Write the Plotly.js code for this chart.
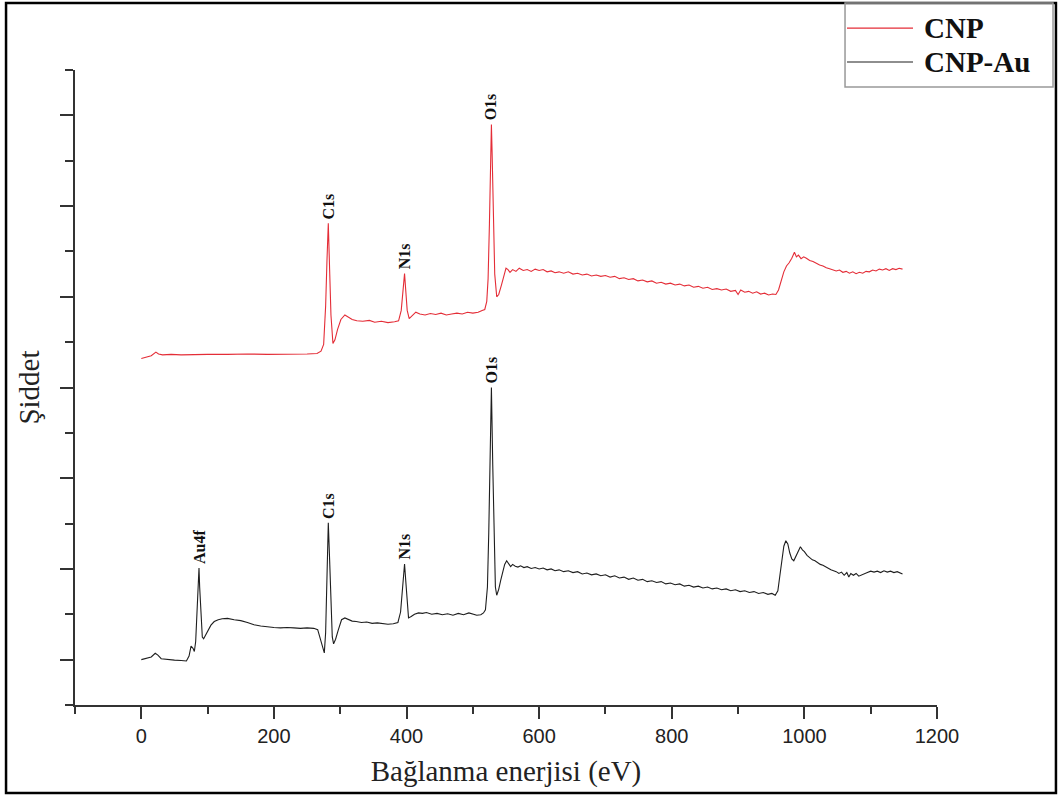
<!DOCTYPE html>
<html>
<head>
<meta charset="utf-8">
<script src="https://cdn.plot.ly/plotly-3.0.1.min.js"></script>
<style>html,body{margin:0;padding:0;background:#fff;}#chart{width:1059px;height:795px;}</style>
</head>
<body>
<div id="chart"></div>
<script>
// ---- Data ----
var seriesNames = ['CNP', 'CNP-Au'];

var cnpE = [0,8,15,22,26,32,45,60,80,100,130,160,190,220,250,265,271,275,278,280,282,284,286,289,292,296,301,307,312,318,325,334,344,352,362,372,382,388,392,395,397,399,401,404,409,414,420,428,436,444,452,460,468,476,484,492,500,508,514,518,521,523,525,527,528,529,531,533,536,539,543,547,550,553,556,560,565,570,576,582,588,594,600,606,612,618,624,630,637,644,651,658,665,672,679,686,693,700,707,714,721,728,735,742,749,756,763,770,777,784,791,798,805,812,819,826,833,840,847,854,861,868,875,882,889,896,900,904,910,916,922,928,934,940,946,952,957,961,965,969,973,977,981,985,988,991,995,999,1003,1008,1013,1018,1023,1028,1033,1038,1043,1048,1053,1058,1063,1068,1073,1078,1083,1088,1093,1098,1103,1108,1113,1118,1123,1128,1133,1138,1143,1148];
var cnpI = [7.64,7.67,7.70,7.78,7.74,7.72,7.73,7.72,7.73,7.73,7.73,7.74,7.73,7.73,7.74,7.75,7.80,7.95,8.80,9.80,10.62,9.60,8.60,7.97,8.05,8.28,8.50,8.60,8.55,8.50,8.47,8.46,8.48,8.44,8.46,8.43,8.45,8.47,8.70,9.20,9.51,9.10,8.70,8.52,8.58,8.66,8.62,8.60,8.63,8.61,8.64,8.60,8.62,8.64,8.62,8.66,8.64,8.66,8.70,8.72,8.90,9.40,10.60,12.30,12.80,12.20,10.80,9.50,9.00,9.05,9.25,9.50,9.63,9.60,9.54,9.60,9.56,9.63,9.58,9.60,9.56,9.61,9.58,9.60,9.55,9.57,9.53,9.55,9.52,9.55,9.50,9.52,9.48,9.50,9.46,9.48,9.45,9.47,9.43,9.45,9.40,9.42,9.38,9.40,9.35,9.37,9.33,9.35,9.30,9.32,9.28,9.30,9.26,9.28,9.24,9.26,9.21,9.23,9.19,9.21,9.16,9.18,9.15,9.17,9.12,9.14,9.05,9.15,9.10,9.12,9.08,9.11,9.06,9.08,9.04,9.06,9.05,9.15,9.35,9.55,9.68,9.75,9.85,9.98,9.88,9.92,9.84,9.88,9.85,9.80,9.78,9.74,9.70,9.68,9.64,9.62,9.60,9.57,9.59,9.54,9.56,9.52,9.55,9.51,9.54,9.52,9.56,9.55,9.59,9.57,9.61,9.59,9.62,9.58,9.62,9.60,9.63,9.61];

var auE = [0,8,15,21,25,30,40,50,60,68,72,75,78,80,82,84,86,87,88,90,92,94,97,100,105,110,116,122,130,140,150,160,170,180,190,200,210,220,230,240,250,260,266,270,273,276,278,280,282,284,286,288,290,293,297,302,307,312,318,324,332,340,348,356,364,372,380,387,391,394,397,399,401,403,407,412,418,424,430,438,446,454,462,470,478,486,494,500,506,512,516,519,522,524,526,528,530,532,534,536,539,542,545,548,551,554,557,560,564,568,572,577,582,588,594,600,606,612,618,624,630,637,644,651,658,665,672,679,686,693,700,707,714,721,728,735,742,749,756,763,770,777,784,791,798,805,812,819,826,833,840,847,854,861,868,875,882,889,896,903,910,917,924,931,938,945,951,956,960,963,966,969,972,975,978,981,984,987,990,994,997,1000,1004,1008,1012,1016,1020,1024,1028,1032,1036,1040,1044,1048,1052,1056,1060,1064,1067,1070,1074,1078,1082,1086,1090,1095,1100,1105,1110,1115,1120,1125,1130,1135,1140,1145,1148];
var auI = [1.00,1.03,1.06,1.14,1.10,1.02,1.00,0.99,0.98,0.97,1.08,1.30,1.25,1.18,1.40,2.00,2.70,3.02,2.60,1.90,1.50,1.46,1.55,1.63,1.76,1.84,1.88,1.90,1.91,1.88,1.86,1.82,1.77,1.74,1.72,1.71,1.70,1.71,1.70,1.69,1.70,1.69,1.66,1.45,1.25,1.15,1.60,2.80,4.02,3.20,2.20,1.50,1.35,1.45,1.65,1.88,1.92,1.88,1.85,1.84,1.82,1.83,1.80,1.81,1.79,1.78,1.79,1.82,2.05,2.60,3.11,2.70,2.20,1.92,1.95,2.00,2.03,2.02,2.04,2.00,2.02,1.99,2.01,1.98,2.02,1.99,2.03,2.00,1.98,1.99,2.03,2.10,2.60,3.80,5.20,7.00,5.30,3.70,2.60,2.42,2.55,2.75,2.95,3.10,3.18,3.12,3.05,3.10,3.06,3.04,3.07,3.03,3.05,3.01,3.03,3.00,3.02,2.98,3.00,2.96,2.98,2.94,2.96,2.92,2.94,2.89,2.91,2.87,2.89,2.85,2.87,2.82,2.85,2.80,2.82,2.77,2.80,2.75,2.77,2.72,2.74,2.70,2.72,2.67,2.69,2.65,2.67,2.62,2.64,2.60,2.62,2.58,2.60,2.56,2.58,2.54,2.56,2.52,2.54,2.50,2.52,2.48,2.50,2.46,2.48,2.44,2.46,2.42,2.52,2.85,3.25,3.50,3.62,3.55,3.35,3.22,3.18,3.28,3.38,3.49,3.42,3.38,3.30,3.26,3.20,3.18,3.13,3.10,3.08,3.04,3.02,2.98,2.96,2.94,2.90,2.93,2.86,2.92,2.82,2.90,2.86,2.90,2.84,2.87,2.90,2.92,2.95,2.93,2.95,2.92,2.96,2.93,2.95,2.92,2.94,2.90,2.89];

// Peak labels
var cnpPeakLabels = ['C1s', 'N1s', 'O1s'];
var cnpPeakE = [282, 397, 528];
var auPeakLabels = ['Au4f', 'C1s', 'N1s', 'O1s'];
var auPeakE = [87, 282, 397, 528];

// Axis ticks
var xTickVals = [0, 200, 400, 600, 800, 1000, 1200];
var xTickText = ['0', '200', '400', '600', '800', '1000', '1200'];

var xTitle = 'Bağlanma enerjisi (eV)';
var yTitle = 'Şiddet';

// ---- Build ----
var redColor = 'rgb(228,45,55)';
var blackColor = 'rgb(30,30,30)';

function lookup(E, I, e) {
  var idx = E.indexOf(e);
  return I[idx];
}

var traces = [
  {x: cnpE, y: cnpI, type: 'scatter', mode: 'lines', name: seriesNames[0],
   line: {color: redColor, width: 1.1}, showlegend: false},
  {x: auE, y: auI, type: 'scatter', mode: 'lines', name: seriesNames[1],
   line: {color: blackColor, width: 1.1}, showlegend: false}
];

var labelFont = {family: 'Liberation Serif, Times New Roman, serif', size: 16, color: '#111'};
var annotations = [];
function addPeaks(labels, Es, E, I) {
  for (var i = 0; i < labels.length; i++) {
    annotations.push({
      x: Es[i], y: lookup(E, I, Es[i]), xref: 'x', yref: 'y',
      text: '<b>' + labels[i] + '</b>', showarrow: false, textangle: -90,
      xanchor: 'center', yanchor: 'bottom', yshift: 3, font: labelFont, borderpad: 0
    });
  }
}
addPeaks(cnpPeakLabels, cnpPeakE, cnpE, cnpI);
addPeaks(auPeakLabels, auPeakE, auE, auI);

// Custom legend (box + line samples + labels) in paper coordinates
var legFont = {family: 'Liberation Serif, Times New Roman, serif', size: 29, color: '#111'};
annotations.push({xref: 'paper', yref: 'paper', x: 0.9830, y: 1.0661, xanchor: 'left', yanchor: 'middle',
  text: '<b>' + seriesNames[0] + '</b>', showarrow: false, font: legFont});
annotations.push({xref: 'paper', yref: 'paper', x: 0.9830, y: 1.0126, xanchor: 'left', yanchor: 'middle',
  text: '<b>' + seriesNames[1] + '</b>', showarrow: false, font: legFont});

var shapes = [
  // outer frame
  {type: 'rect', xref: 'paper', yref: 'paper', x0: -0.0800, x1: 1.1380, y0: -0.1386, y1: 1.1055,
   line: {color: '#000', width: 2.5}, fillcolor: 'rgba(0,0,0,0)'},
  // legend box
  {type: 'rect', xref: 'paper', yref: 'paper', x0: 0.8933, x1: 1.1346, y0: 0.9732, y1: 1.1055,
   line: {color: '#999', width: 1.5}, fillcolor: 'rgba(0,0,0,0)'},
  {type: 'line', xref: 'paper', yref: 'paper', x0: 0.8956, x1: 0.9722, y0: 1.0661, y1: 1.0661,
   line: {color: redColor, width: 1.2}},
  {type: 'line', xref: 'paper', yref: 'paper', x0: 0.8956, x1: 0.9722, y0: 1.0126, y1: 1.0126,
   line: {color: blackColor, width: 1.2}}
];

var layout = {
  width: 1059, height: 795,
  margin: {l: 75, r: 122, t: 70, b: 90, pad: 0},
  paper_bgcolor: '#fff', plot_bgcolor: '#fff',
  showlegend: false,
  xaxis: {
    range: [-100, 1200], showgrid: false, zeroline: false,
    showline: true, linecolor: '#333', linewidth: 2,
    ticks: 'outside', ticklen: 12, tickwidth: 2, tickcolor: '#333',
    tickmode: 'array', tickvals: xTickVals, ticktext: xTickText,
    minor: {dtick: 100, tick0: 0, ticks: 'outside', ticklen: 7, tickwidth: 2, tickcolor: '#333'},
    tickfont: {family: 'Liberation Sans, Arial, sans-serif', size: 20, color: '#222'},
    title: {text: xTitle, standoff: 15, font: {family: 'Liberation Serif, Times New Roman, serif', size: 29, color: '#222'}}
  },
  yaxis: {
    range: [0, 14], showgrid: false, zeroline: false,
    showline: true, linecolor: '#333', linewidth: 2,
    ticks: 'outside', ticklen: 13, tickwidth: 2, tickcolor: '#333',
    tickmode: 'linear', tick0: 1, dtick: 2, showticklabels: false,
    minor: {dtick: 1, tick0: 0, ticks: 'outside', ticklen: 8, tickwidth: 2, tickcolor: '#333'},
    title: {text: yTitle, standoff: 12, font: {family: 'Liberation Serif, Times New Roman, serif', size: 29, color: '#222'}}
  },
  annotations: annotations,
  shapes: shapes
};

Plotly.newPlot('chart', traces, layout, {staticPlot: true, displayModeBar: false});
</script>
</body>
</html>
